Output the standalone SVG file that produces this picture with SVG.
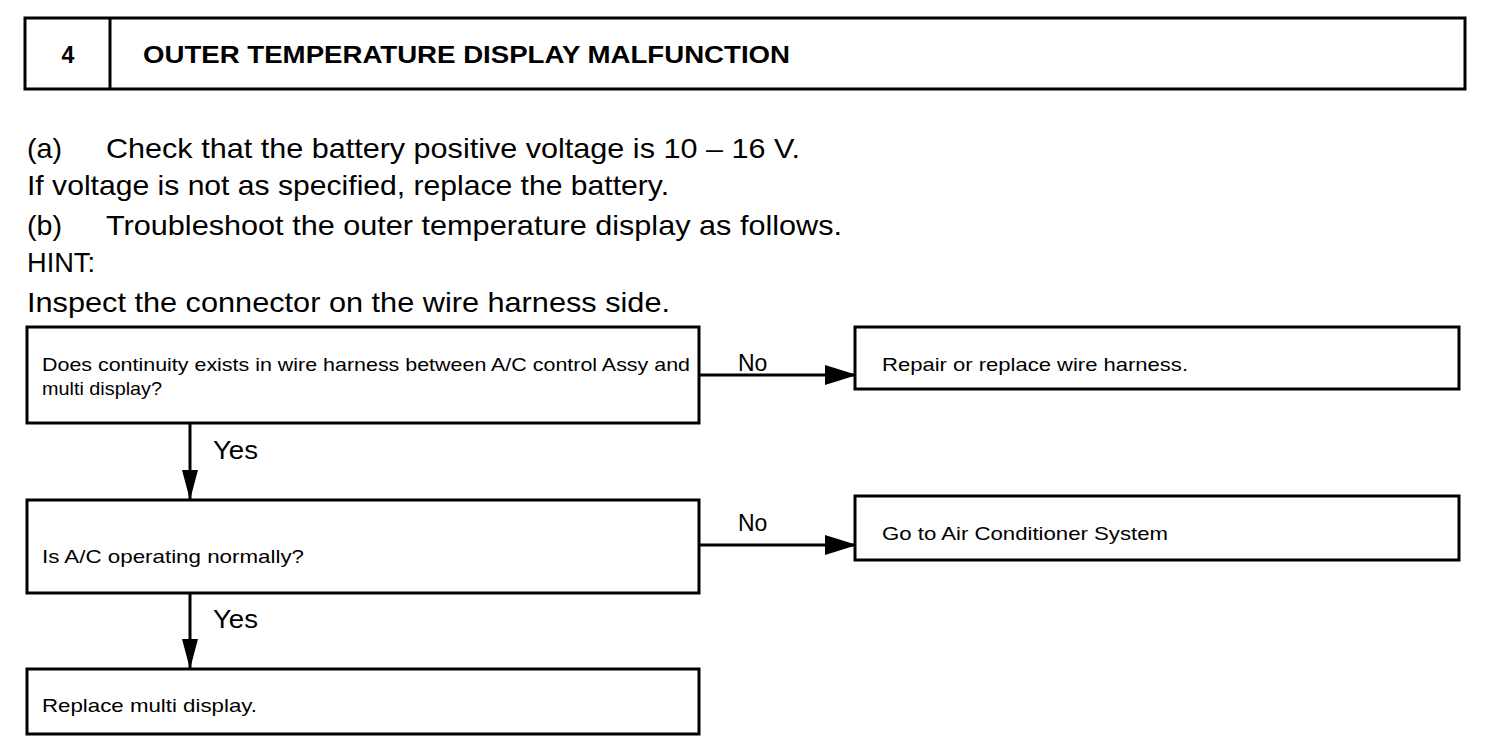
<svg xmlns="http://www.w3.org/2000/svg" width="1504" height="756" viewBox="0 0 1504 756">
<style>
.box{fill:#fff;stroke:#000;stroke-width:3}
.t{font-family:"Liberation Sans",Arial,sans-serif;fill:#000}
.body{font-size:28px}
.small{font-size:18.5px}
.lbl{font-size:25px}
.no{font-size:23px}
.conn{stroke:#000;stroke-width:3;fill:none}
</style>
<defs>
<marker id="ah" markerWidth="32" markerHeight="22" refX="32" refY="11" orient="auto" markerUnits="userSpaceOnUse">
<path d="M0,1 L32,11 L0,21 Z" fill="#000"/>
</marker>
<marker id="av" markerWidth="30" markerHeight="16" refX="30" refY="8" orient="auto" markerUnits="userSpaceOnUse">
<path d="M0,0 L30,8 L0,16 Z" fill="#000"/>
</marker>
</defs>
<rect width="1504" height="756" fill="#fff"/>
<g id="header">
<rect class="box" x="25" y="18" width="1440" height="71"/>
<line x1="110" y1="18" x2="110" y2="89" stroke="#000" stroke-width="3"/>
<text class="t" x="68" y="63" font-size="23" font-weight="bold" text-anchor="middle">4</text>
<text class="t" x="143" y="63" font-size="23" font-weight="bold" textLength="647" lengthAdjust="spacingAndGlyphs">OUTER TEMPERATURE DISPLAY MALFUNCTION</text>
</g>
<g id="intro">
<text class="t body" x="27" y="158" textLength="35" lengthAdjust="spacingAndGlyphs">(a)</text>
<text class="t body" x="106" y="158" textLength="694" lengthAdjust="spacingAndGlyphs">Check that the battery positive voltage is 10 – 16 V.</text>
<text class="t body" x="27" y="195" textLength="642" lengthAdjust="spacingAndGlyphs">If voltage is not as specified, replace the battery.</text>
<text class="t body" x="27" y="235" textLength="35" lengthAdjust="spacingAndGlyphs">(b)</text>
<text class="t body" x="106" y="235" textLength="736" lengthAdjust="spacingAndGlyphs">Troubleshoot the outer temperature display as follows.</text>
<text class="t body" x="27" y="272" textLength="68" lengthAdjust="spacingAndGlyphs">HINT:</text>
<text class="t body" x="27" y="312" textLength="643" lengthAdjust="spacingAndGlyphs">Inspect the connector on the wire harness side.</text>
</g>
<g id="connectors">
<line class="conn" x1="699" y1="375" x2="857" y2="375" marker-end="url(#ah)"/>
<line class="conn" x1="699" y1="545" x2="857" y2="545" marker-end="url(#ah)"/>
<line class="conn" x1="190" y1="423" x2="190" y2="500" marker-end="url(#av)"/>
<line class="conn" x1="190" y1="593" x2="190" y2="669" marker-end="url(#av)"/>
<text class="t no" x="738" y="371">No</text>
<text class="t no" x="738" y="531">No</text>
<text class="t lbl" x="213" y="459" textLength="45" lengthAdjust="spacingAndGlyphs">Yes</text>
<text class="t lbl" x="213" y="628" textLength="45" lengthAdjust="spacingAndGlyphs">Yes</text>
</g>
<g id="q1">
<rect class="box" x="27" y="327" width="672" height="96"/>
<text class="t small" x="42" y="371" textLength="648" lengthAdjust="spacingAndGlyphs">Does continuity exists in wire harness between A/C control Assy and</text>
<text class="t small" x="42" y="395" textLength="120" lengthAdjust="spacingAndGlyphs">multi display?</text>
</g>
<g id="r1">
<rect class="box" x="855" y="327" width="604" height="62"/>
<text class="t small" x="882" y="371" textLength="306" lengthAdjust="spacingAndGlyphs">Repair or replace wire harness.</text>
</g>
<g id="q2">
<rect class="box" x="27" y="500" width="672" height="93"/>
<text class="t small" x="42" y="563" textLength="262" lengthAdjust="spacingAndGlyphs">Is A/C operating normally?</text>
</g>
<g id="r2">
<rect class="box" x="855" y="496" width="604" height="64"/>
<text class="t small" x="882" y="540" textLength="286" lengthAdjust="spacingAndGlyphs">Go to Air Conditioner System</text>
</g>
<g id="r3">
<rect class="box" x="27" y="669" width="672" height="65"/>
<text class="t small" x="42" y="712" textLength="215" lengthAdjust="spacingAndGlyphs">Replace multi display.</text>
</g>
</svg>
